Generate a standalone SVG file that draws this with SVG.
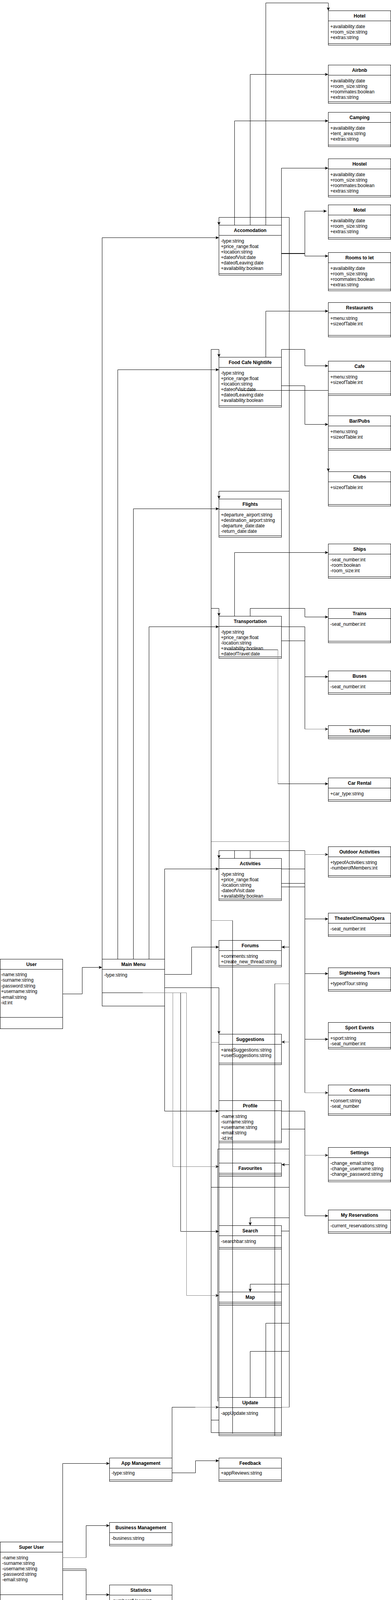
<svg xmlns="http://www.w3.org/2000/svg" width="1001" height="4278" viewBox="0 0 1001 4278">
<style>
.b{fill:#fff;stroke:#000;stroke-width:1}
.l{stroke:#000;stroke-width:1;fill:none}
.t{font-family:"Liberation Sans",Arial,Helvetica,sans-serif;font-size:12px;fill:#000}
.h{font-weight:bold;text-anchor:middle}
.e{fill:none;stroke:#000;stroke-width:1}
.g{stroke:#808080}
</style>
<defs>
<marker id="a" markerWidth="10" markerHeight="8" refX="9" refY="4" orient="auto" markerUnits="userSpaceOnUse"><path d="M0,0 L9,4 L0,8 L2.5,4 z" fill="#000"/></marker>
<marker id="ag" markerWidth="10" markerHeight="8" refX="9" refY="4" orient="auto" markerUnits="userSpaceOnUse"><path d="M0,0 L9,4 L0,8 L2.5,4 z" fill="#222"/></marker>
</defs>
<rect x="0" y="0" width="1001" height="4278" fill="#fff"/>
<g transform="translate(0.5,0.5)">
<g id="nodes">
<g id="hotel"><rect class="b" x="840" y="27" width="160" height="88"/><path class="l" d="M840,53H1000M840,111H1000"/><text class="t h" x="920" y="44">Hotel</text><text class="t" x="845" y="71">+availability:date</text><text class="t" x="845" y="85">+room_size:string</text><text class="t" x="845" y="99">+extras:string</text></g>
<g id="airbnb"><rect class="b" x="840" y="166" width="160" height="98"/><path class="l" d="M840,192H1000M840,260H1000"/><text class="t h" x="920" y="183">Airbnb</text><text class="t" x="845" y="210">+availability:date</text><text class="t" x="845" y="224">+room_size:string</text><text class="t" x="845" y="238">+roommates:boolean</text><text class="t" x="845" y="252">+extras:string</text></g>
<g id="camping"><rect class="b" x="840" y="287" width="160" height="88"/><path class="l" d="M840,313H1000M840,371H1000"/><text class="t h" x="920" y="304">Camping</text><text class="t" x="845" y="331">+availability:date</text><text class="t" x="845" y="345">+tent_area:string</text><text class="t" x="845" y="359">+extras:string</text></g>
<g id="hostel"><rect class="b" x="840" y="406" width="160" height="98"/><path class="l" d="M840,432H1000M840,500H1000"/><text class="t h" x="920" y="423">Hostel</text><text class="t" x="845" y="450">+availability:date</text><text class="t" x="845" y="464">+room_size:string</text><text class="t" x="845" y="478">+roommates:boolean</text><text class="t" x="845" y="492">+extras:string</text></g>
<g id="motel"><rect class="b" x="840" y="524" width="160" height="88"/><path class="l" d="M840,550H1000M840,608H1000"/><text class="t h" x="920" y="541">Motel</text><text class="t" x="845" y="568">+availability:date</text><text class="t" x="845" y="582">+room_size:string</text><text class="t" x="845" y="596">+extras:string</text></g>
<g id="rooms"><rect class="b" x="840" y="646" width="160" height="98"/><path class="l" d="M840,672H1000M840,740H1000"/><text class="t h" x="920" y="663">Rooms to let</text><text class="t" x="845" y="690">+availability:date</text><text class="t" x="845" y="704">+room_size:string</text><text class="t" x="845" y="718">+roommates:boolean</text><text class="t" x="845" y="732">+extras:string</text></g>
<g id="restaurants"><rect class="b" x="840" y="774" width="160" height="88"/><path class="l" d="M840,800H1000M840,858H1000"/><text class="t h" x="920" y="791">Restaurants</text><text class="t" x="845" y="818">+menu:string</text><text class="t" x="845" y="832">+sizeofTable:int</text></g>
<g id="cafe"><rect class="b" x="840" y="924" width="160" height="88"/><path class="l" d="M840,950H1000M840,1008H1000"/><text class="t h" x="920" y="941">Cafe</text><text class="t" x="845" y="968">+menu:string</text><text class="t" x="845" y="982">+sizeofTable:int</text></g>
<g id="bars"><rect class="b" x="840" y="1064" width="160" height="88"/><path class="l" d="M840,1090H1000M840,1148H1000"/><text class="t h" x="920" y="1081">Bar/Pubs</text><text class="t" x="845" y="1108">+menu:string</text><text class="t" x="845" y="1122">+sizeofTable:int</text></g>
<g id="clubs"><rect class="b" x="840" y="1207" width="160" height="88"/><path class="l" d="M840,1233H1000M840,1291H1000"/><text class="t h" x="920" y="1224">Clubs</text><text class="t" x="845" y="1251">+sizeofTable:int</text></g>
<g id="ships"><rect class="b" x="840" y="1392" width="160" height="88"/><path class="l" d="M840,1418H1000M840,1476H1000"/><text class="t h" x="920" y="1409">Ships</text><text class="t" x="845" y="1436">-seat_number:int</text><text class="t" x="845" y="1450">-room:boolean</text><text class="t" x="845" y="1464">-room_size:int</text></g>
<g id="trains"><rect class="b" x="840" y="1557" width="160" height="88"/><path class="l" d="M840,1583H1000M840,1641H1000"/><text class="t h" x="920" y="1574">Trains</text><text class="t" x="845" y="1601">-seat_number:int</text></g>
<g id="buses"><rect class="b" x="840" y="1717" width="160" height="60"/><path class="l" d="M840,1743H1000M840,1773H1000"/><text class="t h" x="920" y="1734">Buses</text><text class="t" x="845" y="1761">-seat_number:int</text></g>
<g id="taxi"><rect class="b" x="840" y="1857" width="160" height="34"/><path class="l" d="M840,1883H1000M840,1887H1000"/><text class="t h" x="920" y="1874">Taxi/Uber</text></g>
<g id="carrental"><rect class="b" x="840" y="1991" width="160" height="60"/><path class="l" d="M840,2017H1000M840,2047H1000"/><text class="t h" x="920" y="2008">Car Rental</text><text class="t" x="845" y="2035">+car_type:string</text></g>
<g id="outdoor"><rect class="b" x="840" y="2167" width="160" height="78"/><path class="l" d="M840,2193H1000M840,2241H1000"/><text class="t h" x="920" y="2184">Outdoor Activities</text><text class="t" x="845" y="2211">+typeofActivities:string</text><text class="t" x="845" y="2225">-numberofMembers:int</text></g>
<g id="theater"><rect class="b" x="840" y="2337" width="160" height="60"/><path class="l" d="M840,2363H1000M840,2393H1000"/><text class="t h" x="920" y="2354">Theater/Cinema/Opera</text><text class="t" x="845" y="2381">-seat_number:int</text></g>
<g id="sightseeing"><rect class="b" x="840" y="2477" width="160" height="60"/><path class="l" d="M840,2503H1000M840,2533H1000"/><text class="t h" x="920" y="2494">Sightseeing Tours</text><text class="t" x="845" y="2521">+typeofTour:string</text></g>
<g id="sport"><rect class="b" x="840" y="2617" width="160" height="68"/><path class="l" d="M840,2643H1000M840,2681H1000"/><text class="t h" x="920" y="2634">Sport Events</text><text class="t" x="845" y="2661">+sport:string</text><text class="t" x="845" y="2675">-seat_number:int</text></g>
<g id="conserts"><rect class="b" x="840" y="2777" width="160" height="78"/><path class="l" d="M840,2803H1000M840,2851H1000"/><text class="t h" x="920" y="2794">Conserts</text><text class="t" x="845" y="2821">+consert:string</text><text class="t" x="845" y="2835">-seat_number</text></g>
<g id="settings"><rect class="b" x="840" y="2937" width="160" height="88"/><path class="l" d="M840,2963H1000M840,3021H1000"/><text class="t h" x="920" y="2954">Settings</text><text class="t" x="845" y="2981">-change_email:string</text><text class="t" x="845" y="2995">-change_username:string</text><text class="t" x="845" y="3009">-change_password:string</text></g>
<g id="reservations"><rect class="b" x="840" y="3097" width="160" height="60"/><path class="l" d="M840,3123H1000M840,3153H1000"/><text class="t h" x="920" y="3114">My Reservations</text><text class="t" x="845" y="3141">-current_reservations:string</text></g>

<g id="accomodation"><rect class="b" x="560" y="576" width="160" height="128"/><path class="l" d="M560,602H720M560,700H720"/><text class="t h" x="640" y="593">Accomodation</text><text class="t" x="565" y="620">-type:string</text><text class="t" x="565" y="634">+price_range:float</text><text class="t" x="565" y="648">+location:string</text><text class="t" x="565" y="662">+dateofVisit:date</text><text class="t" x="565" y="676">+dateofLeaving:date</text><text class="t" x="565" y="690">+availability:boolean</text></g>
<g id="food"><rect class="b" x="560" y="914" width="160" height="128"/><path class="l" d="M560,940H720M560,1038H720"/><text class="t h" x="640" y="931">Food Cafe Nightlife</text><text class="t" x="565" y="958">-type:string</text><text class="t" x="565" y="972">+price_range:float</text><text class="t" x="565" y="986">+location:string</text><text class="t" x="565" y="1000">+dateofVisit:date</text><text class="t" x="565" y="1014">+dateofLeaving:date</text><text class="t" x="565" y="1028">+availability:boolean</text></g>
<g id="flights"><rect class="b" x="560" y="1277" width="160" height="98"/><path class="l" d="M560,1303H720M560,1371H720"/><text class="t h" x="640" y="1294">Flights</text><text class="t" x="565" y="1321">+departure_airport:string</text><text class="t" x="565" y="1335">+destination_airport:string</text><text class="t" x="565" y="1349">-departure_date:date</text><text class="t" x="565" y="1363">-return_date:date</text></g>
<g id="transportation"><rect class="b" x="560" y="1577" width="160" height="108"/><path class="l" d="M560,1603H720M560,1681H720"/><text class="t h" x="640" y="1594">Transportation</text><text class="t" x="565" y="1621">-type:string</text><text class="t" x="565" y="1635">+price_range:float</text><text class="t" x="565" y="1649">-location:string</text><text class="t" x="565" y="1663">+availability:boolean</text><text class="t" x="565" y="1677">+dateofTravel:date</text></g>
<g id="activities"><rect class="b" x="560" y="2197" width="160" height="108"/><path class="l" d="M560,2223H720M560,2301H720"/><text class="t h" x="640" y="2214">Activities</text><text class="t" x="565" y="2241">-type:string</text><text class="t" x="565" y="2255">+price_range:float</text><text class="t" x="565" y="2269">-location:string</text><text class="t" x="565" y="2283">-dateofVisit:date</text><text class="t" x="565" y="2297">+availability:boolean</text></g>
<g id="forums"><rect class="b" x="560" y="2407" width="160" height="68"/><path class="l" d="M560,2433H720M560,2471H720"/><text class="t h" x="640" y="2424">Forums</text><text class="t" x="565" y="2451">+comments:string</text><text class="t" x="565" y="2465">+create_new_thread:string</text></g>
<g id="suggestions"><rect class="b" x="560" y="2647" width="160" height="78"/><path class="l" d="M560,2673H720M560,2721H720"/><text class="t h" x="640" y="2664">Suggestions</text><text class="t" x="565" y="2691">+areaSuggestions:string</text><text class="t" x="565" y="2705">+userSuggestions:string</text></g>
<g id="profile"><rect class="b" x="560" y="2817" width="160" height="108"/><path class="l" d="M560,2843H720M560,2921H720"/><text class="t h" x="640" y="2834">Profile</text><text class="t" x="565" y="2861">-name:string</text><text class="t" x="565" y="2875">-surname:string</text><text class="t" x="565" y="2889">+username:string</text><text class="t" x="565" y="2903">-email:string</text><text class="t" x="565" y="2917">-id:int</text></g>
<g id="favourites"><rect class="b" x="560" y="2977" width="160" height="34"/><path class="l" d="M560,3003H720M560,3007H720"/><text class="t h" x="640" y="2994">Favourites</text></g>
<g id="search"><rect class="b" x="560" y="3137" width="160" height="60"/><path class="l" d="M560,3163H720M560,3193H720"/><text class="t h" x="640" y="3154">Search</text><text class="t" x="565" y="3181">-searchbar:string</text></g>
<g id="map"><rect class="b" x="560" y="3307" width="160" height="34"/><path class="l" d="M560,3333H720M560,3337H720"/><text class="t h" x="640" y="3324">Map</text></g>
<g id="update"><rect class="b" x="560" y="3577" width="160" height="98"/><path class="l" d="M560,3603H720M560,3671H720"/><text class="t h" x="640" y="3594">Update</text><text class="t" x="565" y="3621">-appUpdate:string</text></g>

<g id="user"><rect class="b" x="0" y="2455" width="160" height="178"/><path class="l" d="M0,2481H160M0,2604H160"/><text class="t h" x="80" y="2472">User</text><text class="t" x="2" y="2498">-name:string</text><text class="t" x="2" y="2512">-surname:string</text><text class="t" x="2" y="2527">-password:string</text><text class="t" x="2" y="2541">+username:string</text><text class="t" x="2" y="2556">-email:string</text><text class="t" x="2" y="2570">-id:int</text></g>
<g id="mainmenu"><rect class="b" x="261" y="2455" width="160" height="120"/><path class="l" d="M261,2481H421M261,2541H421"/><text class="t h" x="341" y="2472">Main Menu</text><text class="t" x="266" y="2499">-type:string</text></g>
<g id="appmanagement"><rect class="b" x="280" y="3732" width="160" height="60"/><path class="l" d="M280,3758H440M280,3788H440"/><text class="t h" x="360" y="3749">App Management</text><text class="t" x="285" y="3774">-type:string</text></g>
<g id="feedback"><rect class="b" x="560" y="3732" width="160" height="60"/><path class="l" d="M560,3758H720M560,3788H720"/><text class="t h" x="640" y="3749">Feedback</text><text class="t" x="565" y="3774">+appReviews:string</text></g>
<g id="superuser"><rect class="b" x="0" y="3947" width="160" height="158"/><path class="l" d="M0,3973H160M0,4082H160"/><text class="t h" x="80" y="3964">Super User</text><text class="t" x="5" y="3991">-name:string</text><text class="t" x="5" y="4005">-surname:string</text><text class="t" x="5" y="4019">-username:string</text><text class="t" x="5" y="4033">-password:string</text><text class="t" x="5" y="4047">-email:string</text></g>
<g id="business"><rect class="b" x="280" y="3897" width="160" height="60"/><path class="l" d="M280,3923H440M280,3953H440"/><text class="t h" x="360" y="3914">Business Management</text><text class="t" x="285" y="3941">-business:string</text></g>
<g id="statistics"><rect class="b" x="280" y="4057" width="160" height="100"/><path class="l" d="M280,4083H440M280,4153H440"/><text class="t h" x="360" y="4074">Statistics</text><text class="t" x="285" y="4101">-numberofUsers:int</text><text class="t" x="285" y="4115">-income:int</text><text class="t" x="285" y="4129">-outcome:int</text><text class="t" x="285" y="4143">-newBusiness:string</text></g>
<g id="thirdparty"><rect class="b" x="280" y="4218" width="160" height="59"/><path class="l" d="M280,4244H440M280,4273H440"/><text class="t h" x="360" y="4235">Third Party</text><text class="t" x="285" y="4262">-addons:string</text></g>
</g>

<g id="connectors">
<path class="e" d="M680,576V7H840V27" marker-end="url(#a)"/>
<path class="e" d="M640,576V190H840" marker-end="url(#a)"/>
<path class="e" d="M600,576V309H840" marker-end="url(#a)"/>
<path class="e" d="M720,576V430H840" marker-end="url(#a)"/>
<path class="e" d="M720,648H780V540H836" marker-end="url(#a)"/>
<path class="e" d="M720,649H780V655H840" marker-end="url(#a)"/>

<path class="e g" d="M720,3602H740"/>
<path class="e" d="M740,3602V556H560V576" marker-end="url(#a)"/>
<path class="e" d="M740,1257H560V1277" marker-end="url(#a)"/>
<path class="e g" d="M740,2154H540"/>
<path class="e" d="M740,2424H720" marker-end="url(#a)"/>
<path class="e g" d="M740,2518H703"/>
<path class="e" d="M703,2518V3675"/>
<path class="e g" d="M740,2667H720" marker-end="url(#ag)"/>
<path class="e" d="M740,2941H557V3587"/>
<path class="e" d="M740,2981H720" marker-end="url(#a)"/>
<path class="e" d="M740,3039H540"/>
<path class="e" d="M740,3117H640V3137" marker-end="url(#a)"/>
<path class="e" d="M720,3151H740"/>
<path class="e" d="M740,3287H640V3307" marker-end="url(#a)"/>
<path class="e" d="M740,3387H680V3577"/>
<path class="e" d="M740,3459H640V3577"/>

<path class="e" d="M540,3667V894H560V914" marker-end="url(#a)"/>
<path class="e" d="M540,3667H720"/>
<path class="e" d="M540,1557H560V1577" marker-end="url(#a)"/>
<path class="e g" d="M540,2356H595"/>
<path class="e" d="M595,2356V3669"/>
<path class="e g" d="M540,2668H560"/>
<path class="e" d="M540,3635H560"/>
<path class="e" d="M560,2647V3675"/>
<path class="e" d="M720,3137V3675"/>

<path class="e" d="M680,914V796H840" marker-end="url(#a)"/>
<path class="e" d="M720,914V894H780V936H840" marker-end="url(#a)"/>
<path class="e" d="M720,987H780V1086H840" marker-end="url(#a)"/>
<path class="e" d="M610,999H840V1207" marker-end="url(#a)"/>

<path class="e" d="M600,1577V1414H840" marker-end="url(#a)"/>
<path class="e" d="M640,1577V1557H780V1579H840" marker-end="url(#a)"/>
<path class="e" d="M720,1604H780V1866"/>
<path class="e g" d="M780,1866H840" marker-end="url(#ag)"/>
<path class="e" d="M780,1732H840" marker-end="url(#a)"/>
<path class="e" d="M720,1640H780"/>
<path class="e" d="M582,1663H711"/>
<path class="e g" d="M711,1663V2006"/>
<path class="e" d="M711,2006H840" marker-end="url(#a)"/>

<path class="e" d="M780,2177H560V2197" marker-end="url(#a)"/>
<path class="e" d="M600,2197V2177M640,2197V2177"/>
<path class="e" d="M720,2224H780M720,2261H780M720,2270H780"/>
<path class="e" d="M780,2177V2797"/>
<path class="e g" d="M780,2797H840" marker-end="url(#ag)"/>
<path class="e g" d="M780,2187H840" marker-end="url(#ag)"/>
<path class="e" d="M780,2352H840" marker-end="url(#a)"/>
<path class="e" d="M780,2492H840" marker-end="url(#a)"/>
<path class="e" d="M780,2660H840" marker-end="url(#a)"/>

<path class="e" d="M720,2844H780V3112H840" marker-end="url(#a)"/>
<path class="e" d="M720,2890H780"/>
<path class="e g" d="M780,2957H840" marker-end="url(#ag)"/>

<path class="e" d="M160,2544H210V2476H261" marker-end="url(#a)"/>
<path class="e" d="M261,2455V608H560" marker-end="url(#a)"/>
<path class="e" d="M301,2455V946H560" marker-end="url(#a)"/>
<path class="e" d="M341,2455V1302H560" marker-end="url(#a)"/>
<path class="e" d="M381,2455V1604H560" marker-end="url(#a)"/>
<path class="e" d="M421,2455V2224H560" marker-end="url(#a)"/>
<path class="e" d="M421,2494H490V2424H560" marker-end="url(#a)"/>
<path class="e" d="M421,2528H560V2647" marker-end="url(#a)"/>
<path class="e" d="M281,2541H421V2844H560" marker-end="url(#a)"/>
<path class="e g" d="M365,2541H442V2986H560" marker-end="url(#ag)"/>
<path class="e" d="M365,2541H462V3152H560" marker-end="url(#a)"/>
<path class="e g" d="M365,2541H477V3316H560" marker-end="url(#ag)"/>
<path class="e" d="M440,3732V3602H500"/>
<path class="e g" d="M500,3602H560" marker-end="url(#ag)"/>

<path class="e" d="M440,3770H500V3739H560" marker-end="url(#a)"/>
<path class="e" d="M160,3947V3746H280" marker-end="url(#a)"/>
<path class="e g" d="M160,3987H220"/>
<path class="e" d="M220,3987V3905H280" marker-end="url(#a)"/>
<path class="e" d="M160,4016H220V4082H280" marker-end="url(#a)"/>
<path class="e" d="M160,4020H220V4232H280" marker-end="url(#a)"/>
</g>
</g>
</svg>
